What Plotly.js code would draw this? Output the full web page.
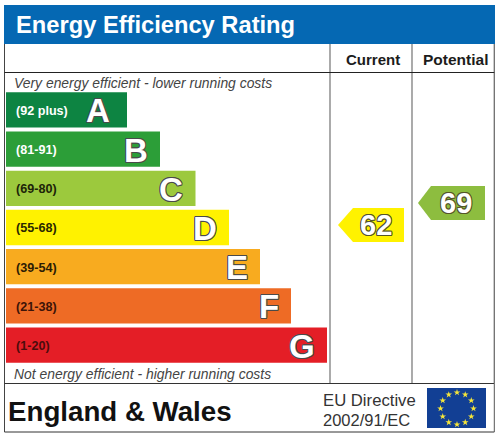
<!DOCTYPE html>
<html><head><meta charset="utf-8">
<script src="https://cdn.plot.ly/plotly-3.0.1.min.js"></script>
<style>html,body{margin:0;padding:0;background:#fff}#c{width:498px;height:437px}</style>
</head><body><div id="c"></div>
<script>
const bands = ['A','B','C','D','E','F','G'];
const ranges = ['(92 plus)','(81-91)','(69-80)','(55-68)','(39-54)','(21-38)','(1-20)'];
const bandLengths = [121,154,189.5,223,254,285,321];
const bandColors = ['#0d8442','#2c9e38','#9cc93d','#fff200','#f8ab1f','#ee6b25','#e41e26'];
const rangeTextColors = ['#ffffff','#ffffff','#1c2408','#2a2800','#2c1c04','#3c1408','#4c0c0c'];
const columns = ['Current','Potential'];
const scores = [62,69];
const scoreColors = ['#fff200','#8dbd3f'];

const F = 'Liberation Sans, Arial, sans-serif';
const barLeft = 6;
const outline = c => `-0.8px -0.8px 0 ${c}, 0.8px -0.8px 0 ${c}, -0.8px 0.8px 0 ${c}, 0.8px 0.8px 0 ${c}, 0 -1px 0 ${c}, 0 1px 0 ${c}, -1px 0 0 ${c}, 1px 0 0 ${c}`;

const traces = [];
traces.push({type:'bar',orientation:'h',y:bands,x:bandLengths,base:barLeft,xaxis:'x',yaxis:'y2',
  marker:{color:bandColors,line:{width:0}},hoverinfo:'skip'});

// score arrows, placed on the score axis
const arrowX = [[338,353,404],[418,431,485]];
const halfH = 5.4;
scores.forEach((s,i)=>{
  const [tip,neck,end] = arrowX[i];
  traces.push({type:'scatter',mode:'lines',fill:'toself',fillcolor:scoreColors[i],line:{width:0,color:scoreColors[i]},
    x:[tip,neck,end,end,neck,tip],y:[s,s+halfH,s+halfH,s-halfH,s-halfH,s],xaxis:'x',yaxis:'y3',hoverinfo:'skip'});
});

// EU flag stars
const sx=[],sy=[];
for(let k=0;k<12;k++){const a=k*Math.PI/6;sx.push(457+16.5*Math.sin(a));sy.push(408.5-16*Math.cos(a));}
traces.push({type:'scatter',mode:'markers',x:sx,y:sy,xaxis:'x',yaxis:'y',
  marker:{symbol:'star',size:5,color:'#f5e53a',line:{width:0}},hoverinfo:'skip'});

const line=(x0,y0,x1,y1,color,w)=>({type:'line',xref:'x',yref:'y',x0,y0,x1,y1,line:{color,width:w},layer:'below'});
const rect=(x0,y0,x1,y1,color)=>({type:'rect',xref:'x',yref:'y',x0,y0,x1,y1,fillcolor:color,line:{width:0},layer:'below'});
const shapes=[
  rect(4,5,495,44,'#0568b3'),
  rect(427,388,486,428,'#123f94'),
  line(330,44,330,383.5,'#7d7d7d',1.3),
  line(412,44,412,383.5,'#7d7d7d',1.3),
  line(494.3,44,494.3,383.5,'#6d6d6d',1.3),
  line(4.5,44,4.5,432,'#444444',1),
  line(4.5,72.5,494.3,72.5,'#222222',1),
  line(4.5,383.5,494.3,383.5,'#333333',1),
  line(4.5,432,494.3,432,'#333333',1),
  line(494.3,383.5,494.3,432,'#555555',1)
];
const note=(text,x,y,size,color,extra)=>Object.assign({text,x,y,xref:'x',yref:'y',showarrow:false,xanchor:'left',yanchor:'middle',
  font:{family:F,size,color},align:'left',borderpad:0,borderwidth:0},extra||{});
const annotations=[
  note('<b>Energy Efficiency Rating</b>',16,25,23.7,'#ffffff'),
  note('<b>'+columns[0]+'</b>',372.5,59.5,15,'#1c1c1c',{xanchor:'center'}),
  note('<b>'+columns[1]+'</b>',455.5,59.5,15.5,'#1c1c1c',{xanchor:'center'}),
  note('<i>Very energy efficient - lower running costs</i>',14,83,13.9,'#444444'),
  note('<i>Not energy efficient - higher running costs</i>',14,374,13.9,'#444444'),
  note('<b>England &amp; Wales</b>',8,411,27.7,'#111111'),
  note('EU Directive',323,400,16.7,'#333333'),
  note('2002/91/EC',323,420,16.5,'#333333')
];
bands.forEach((b,i)=>{
  annotations.push({text:'<b>'+ranges[i]+'</b>',x:14,y:b,xref:'x',yref:'y2',showarrow:false,xanchor:'left',yanchor:'middle',yshift:-1,
    font:{family:F,size:12.6,color:rangeTextColors[i]}});
  annotations.push({text:'<b>'+b+'</b>',x:barLeft+bandLengths[i]-(i===0?15.5:10.5),y:b,xref:'x',yref:'y2',showarrow:false,xanchor:'right',yanchor:'middle',yshift:-1,
    font:{family:F,size:33,color:'#ffffff',shadow:outline('#4a4a4a')}});
});
scores.forEach((s,i)=>{
  const [tip,,end]=arrowX[i];
  annotations.push({text:'<b>'+s+'</b>',x:(tip+end)/2+(i===0?5:4),y:s,xref:'x',yref:'y3',showarrow:false,xanchor:'center',yanchor:'middle',yshift:0,
    font:{family:F,size:29,color:'#ffffff',shadow:outline('#55552a')}});
});
const H=437, bandsTop=90.4, bandsBottom=364.6;
const layout={width:498,height:437,margin:{l:0,r:0,t:0,b:0,pad:0},showlegend:false,paper_bgcolor:'#ffffff',plot_bgcolor:'rgba(0,0,0,0)',
  bargap:0.1,dragmode:false,
  xaxis:{range:[0,498],visible:false,fixedrange:true},
  yaxis:{range:[437,0],visible:false,fixedrange:true,domain:[0,1]},
  yaxis2:{type:'category',categoryorder:'array',categoryarray:bands,range:[6.5,-0.5],visible:false,fixedrange:true,
    domain:[(H-bandsBottom)/H,(H-bandsTop)/H],anchor:'x'},
  yaxis3:{range:[-5.45,133.6],visible:false,fixedrange:true,overlaying:'y',anchor:'x'},
  shapes,annotations};
Plotly.newPlot('c',traces,layout,{displayModeBar:false,staticPlot:true});
</script></body></html>
